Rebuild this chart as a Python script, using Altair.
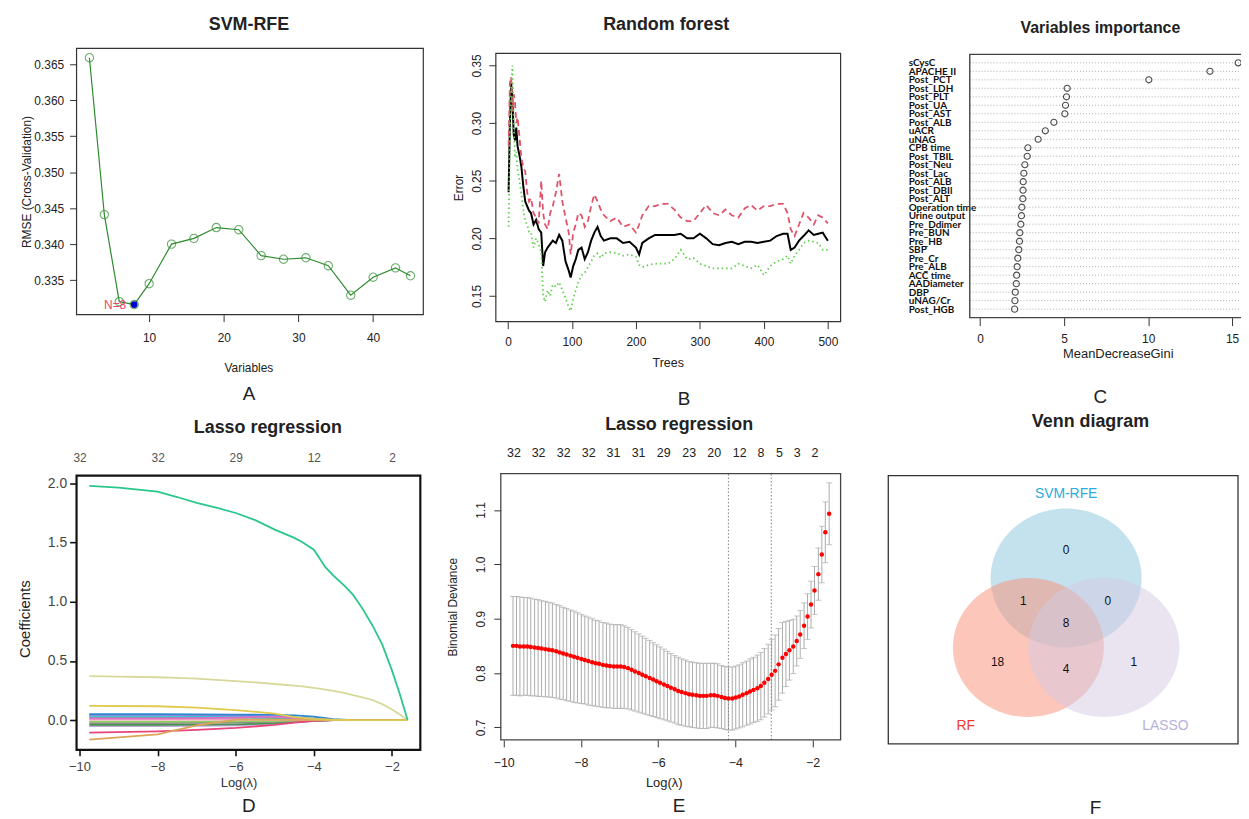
import altair as alt
import pandas as pd

FONT = "Liberation Sans, Arial, Helvetica, sans-serif"
ROWFONT = "Lato, Carlito, Liberation Sans, sans-serif"
INK = "#222222"
W, H, M = 1241, 811, 8

# ---------------- data ----------------
# A: SVM-RFE
A_vars = [2, 4, 6, 8, 10, 13, 16, 19, 22, 25, 28, 31, 34, 37, 40, 43, 45]
A_rmse = [0.3659, 0.3441, 0.3320, 0.3316, 0.3345, 0.3400, 0.3408, 0.3423, 0.3420,
          0.3384, 0.3379, 0.3381, 0.3370, 0.3329, 0.3354, 0.3367, 0.3356]
A_best_n = [8]
A_best_rmse = [0.3316]
A_best_label = ["N=8"]

# B: Random forest error rates
B_trees = [1, 3, 5, 7, 9, 11, 13, 15, 18, 21, 24, 27, 30, 33, 36, 40, 44, 48, 52, 55,
           58, 62, 66, 70, 75, 80, 85, 90, 95, 98, 102, 106, 110, 115, 120, 125, 130, 135, 140, 145,
           150, 160, 170, 180, 190, 200, 205, 210, 220, 230, 240, 250, 260, 270, 280, 290, 300, 310, 320, 330,
           340, 350, 360, 370, 380, 390, 400, 410, 420, 430, 437, 442, 448, 455, 462, 470, 478, 485, 492, 500]
B_oob = [0.240, 0.300, 0.335, 0.320, 0.290, 0.285, 0.296, 0.280, 0.272, 0.262, 0.245, 0.232, 0.228, 0.224, 0.222, 0.212, 0.216, 0.208, 0.205, 0.176,
         0.188, 0.192, 0.195, 0.198, 0.196, 0.203, 0.198, 0.180, 0.172, 0.166, 0.176, 0.182, 0.190, 0.192, 0.182, 0.188, 0.198, 0.205, 0.210, 0.202,
         0.198, 0.200, 0.200, 0.196, 0.197, 0.192, 0.186, 0.196, 0.200, 0.203, 0.203, 0.203, 0.203, 0.204, 0.200, 0.200, 0.204, 0.200, 0.195, 0.194,
         0.196, 0.197, 0.195, 0.197, 0.197, 0.196, 0.197, 0.198, 0.202, 0.204, 0.204, 0.190, 0.192, 0.198, 0.202, 0.207, 0.203, 0.204, 0.205, 0.198]
B_cls1 = [0.280, 0.335, 0.340, 0.310, 0.325, 0.318, 0.300, 0.305, 0.288, 0.270, 0.262, 0.258, 0.240, 0.232, 0.235, 0.222, 0.218, 0.213, 0.250, 0.222,
          0.212, 0.208, 0.222, 0.228, 0.240, 0.256, 0.232, 0.218, 0.205, 0.186, 0.205, 0.212, 0.222, 0.220, 0.210, 0.215, 0.228, 0.238, 0.232, 0.225,
          0.220, 0.215, 0.218, 0.210, 0.212, 0.205, 0.212, 0.220, 0.228, 0.228, 0.230, 0.230, 0.225, 0.218, 0.215, 0.215, 0.222, 0.229, 0.222, 0.220,
          0.225, 0.220, 0.218, 0.226, 0.229, 0.224, 0.228, 0.228, 0.230, 0.230, 0.222, 0.208, 0.202, 0.212, 0.222, 0.218, 0.212, 0.220, 0.218, 0.213]
B_cls0 = [0.210, 0.290, 0.330, 0.350, 0.300, 0.270, 0.275, 0.260, 0.250, 0.238, 0.225, 0.215, 0.212, 0.205, 0.205, 0.192, 0.200, 0.195, 0.188, 0.150,
          0.145, 0.155, 0.150, 0.160, 0.158, 0.162, 0.155, 0.148, 0.140, 0.137, 0.148, 0.155, 0.162, 0.168, 0.170, 0.175, 0.180, 0.185, 0.187, 0.183,
          0.187, 0.188, 0.187, 0.185, 0.186, 0.184, 0.177, 0.175, 0.177, 0.178, 0.178, 0.178, 0.182, 0.190, 0.182, 0.183, 0.178, 0.176, 0.174, 0.174,
          0.174, 0.174, 0.178, 0.176, 0.174, 0.177, 0.168, 0.176, 0.180, 0.182, 0.185, 0.178, 0.185, 0.190, 0.196, 0.198, 0.197, 0.196, 0.190, 0.190]

# C: Variables importance (top to bottom)
C_names = ["sCysC", "APACHE II", "Post_PCT", "Post_LDH", "Post_PLT", "Post_UA", "Post_AST", "Post_ALB",
           "uACR", "uNAG", "CPB time", "Post_TBIL", "Post_Neu", "Post_Lac", "Post_ALB", "Post_DBIl",
           "Post_ALT", "Operation time", "Urine output", "Pre_Ddimer", "Pre_BUN", "Pre_HB", "SBP",
           "Pre_Cr", "Pre_ALB", "ACC time", "AADiameter", "DBP", "uNAG/Cr", "Post_HGB"]
C_gini = [15.36, 13.68, 10.04, 5.18, 5.14, 5.08, 5.04, 4.39, 3.88, 3.45, 2.84, 2.80, 2.66, 2.60, 2.56,
          2.55, 2.54, 2.48, 2.46, 2.42, 2.36, 2.34, 2.30, 2.24, 2.20, 2.17, 2.15, 2.09, 2.07, 2.05]

# D: Lasso coefficient paths
D_loglam = [-9.75, -8.0, -7.0, -6.0, -5.0, -4.5, -4.0, -3.5, -3.0, -2.5, -2.0, -1.6]
D_names = ["lavender", "darkgreen", "gray", "lightgreen", "pink", "teal", "cyan", "purple", "blue",
           "magenta", "pinkred", "orange", "yellow"]
D_colors = ["#B7A8DC", "#4B944F", "#8A8A8A", "#92D05E", "#F29EBE", "#46B7A0", "#3CC2D8", "#A284DA", "#2E86D1",
            "#DD6FC8", "#E6467A", "#DDA55A", "#E1C94B"]
D_coefs = [
    [-0.050, -0.050, -0.048, -0.044, -0.032, -0.020, -0.008, 0.0, 0.0, 0.0, 0.0, 0.0],
    [-0.040, -0.040, -0.039, -0.036, -0.026, -0.016, -0.006, 0.0, 0.0, 0.0, 0.0, 0.0],
    [-0.025, -0.025, -0.024, -0.022, -0.015, -0.009, -0.004, 0.0, 0.0, 0.0, 0.0, 0.0],
    [-0.012, -0.012, -0.012, -0.011, -0.008, -0.005, -0.002, 0.0, 0.0, 0.0, 0.0, 0.0],
    [0.005, 0.005, 0.005, 0.004, 0.003, 0.002, 0.001, 0.0, 0.0, 0.0, 0.0, 0.0],
    [0.025, 0.025, 0.024, 0.022, 0.016, 0.010, 0.004, 0.0, 0.0, 0.0, 0.0, 0.0],
    [0.035, 0.035, 0.034, 0.033, 0.028, 0.022, 0.012, 0.003, 0.0, 0.0, 0.0, 0.0],
    [0.044, 0.044, 0.043, 0.040, 0.030, 0.020, 0.008, 0.002, 0.0, 0.0, 0.0, 0.0],
    [0.050, 0.050, 0.049, 0.047, 0.044, 0.040, 0.030, 0.008, 0.0, 0.0, 0.0, 0.0],
    [0.015, 0.015, 0.016, 0.020, 0.030, 0.018, 0.006, 0.0, 0.0, 0.0, 0.0, 0.0],
    [-0.105, -0.095, -0.082, -0.066, -0.040, -0.022, -0.006, 0.0, 0.0, 0.0, 0.0, 0.0],
    [-0.165, -0.120, -0.045, 0.005, 0.005, 0.003, 0.0, 0.0, 0.0, 0.0, 0.0, 0.0],
    [0.121, 0.117, 0.105, 0.085, 0.055, 0.025, 0.010, 0.003, 0.0, 0.0, 0.0, 0.0],
]
D_loglam_fine = [-9.75, -9.0, -8.0, -7.5, -7.0, -6.5, -6.0, -5.5, -5.0, -4.5, -4.3, -4.0,
                 -3.7, -3.5, -3.2, -3.0, -2.75, -2.5, -2.25, -2.0, -1.8, -1.6]
D_names_fine = ["khaki", "main"]
D_colors_fine = ["#D8D89A", "#29C78A"]
D_coefs_fine = [
    [0.372, 0.368, 0.362, 0.357, 0.350, 0.340, 0.330, 0.318, 0.305, 0.292, 0.285, 0.272,
     0.258, 0.247, 0.228, 0.212, 0.192, 0.170, 0.135, 0.090, 0.048, 0.0],
    [1.980, 1.964, 1.930, 1.885, 1.835, 1.795, 1.750, 1.690, 1.610, 1.540, 1.505, 1.440,
     1.290, 1.220, 1.130, 1.060, 0.940, 0.800, 0.640, 0.420, 0.220, 0.0],
]
D_top_at = [-10, -8, -6, -4, -2]
D_top_lab = ["32", "32", "29", "12", "2"]

# E: cross-validated binomial deviance
E_loglam = [-9.76, -9.67, -9.58, -9.48, -9.39, -9.30, -9.20, -9.11, -9.02, -8.92,
            -8.83, -8.74, -8.64, -8.55, -8.46, -8.37, -8.27, -8.18, -8.09, -7.99,
            -7.90, -7.81, -7.71, -7.62, -7.53, -7.43, -7.34, -7.25, -7.15, -7.06,
            -6.97, -6.88, -6.78, -6.69, -6.60, -6.50, -6.41, -6.32, -6.22, -6.13,
            -6.04, -5.95, -5.85, -5.76, -5.67, -5.57, -5.48, -5.39, -5.29, -5.20,
            -5.11, -5.01, -4.92, -4.83, -4.74, -4.64, -4.55, -4.46, -4.36, -4.27,
            -4.18, -4.08, -3.99, -3.90, -3.81, -3.71, -3.62, -3.53, -3.43, -3.34,
            -3.25, -3.15, -3.06, -2.97, -2.88, -2.78, -2.69, -2.60, -2.50, -2.41,
            -2.32, -2.22, -2.13, -2.04, -1.95, -1.85, -1.76, -1.67, -1.57]
E_cvm = [0.850, 0.850, 0.849, 0.849, 0.849, 0.848, 0.847, 0.846, 0.845, 0.844,
         0.843, 0.842, 0.840, 0.838, 0.836, 0.834, 0.832, 0.830, 0.828, 0.826,
         0.824, 0.822, 0.820, 0.818, 0.817, 0.815, 0.814, 0.813, 0.812, 0.812,
         0.812, 0.811, 0.809, 0.806, 0.803, 0.800, 0.797, 0.794, 0.791, 0.788,
         0.785, 0.782, 0.779, 0.776, 0.773, 0.770, 0.767, 0.765, 0.763, 0.761,
         0.760, 0.759, 0.758, 0.758, 0.758, 0.759, 0.759, 0.758, 0.756, 0.754,
         0.753, 0.753, 0.755, 0.757, 0.760, 0.763, 0.766, 0.769, 0.772, 0.776,
         0.782, 0.789, 0.797, 0.804, 0.816, 0.828, 0.835, 0.842, 0.849, 0.859,
         0.871, 0.887, 0.904, 0.926, 0.952, 0.982, 1.018, 1.059, 1.093]
E_cvsd = [0.091, 0.091, 0.091, 0.090, 0.090, 0.090, 0.089, 0.089, 0.088, 0.088,
          0.087, 0.087, 0.086, 0.086, 0.085, 0.085, 0.084, 0.084, 0.083, 0.082,
          0.081, 0.081, 0.080, 0.079, 0.079, 0.078, 0.078, 0.077, 0.077, 0.077,
          0.077, 0.076, 0.075, 0.074, 0.073, 0.072, 0.071, 0.070, 0.069, 0.068,
          0.067, 0.066, 0.065, 0.064, 0.063, 0.062, 0.062, 0.061, 0.061, 0.060,
          0.060, 0.060, 0.060, 0.060, 0.060, 0.059, 0.059, 0.059, 0.058, 0.058,
          0.058, 0.058, 0.058, 0.058, 0.059, 0.059, 0.060, 0.060, 0.061, 0.062,
          0.063, 0.064, 0.065, 0.066, 0.066, 0.065, 0.060, 0.055, 0.050, 0.046,
          0.044, 0.042, 0.042, 0.043, 0.044, 0.048, 0.052, 0.056, 0.057]
E_lambda_lines = [-4.18, -3.07]
E_top_at = [-9.75, -9.11, -8.46, -7.81, -7.17, -6.52, -5.87, -5.21, -4.56, -3.90, -3.35, -2.87, -2.41, -1.95]
E_top_lab = ["32", "32", "32", "32", "31", "31", "29", "23", "20", "12", "8", "5", "3", "2"]

# F: Venn diagram
F_sets = ["SVM-RFE", "RF", "LASSO"]
F_set_x = [50.85, 40.06, 61.65]
F_set_y = [61.85, 35.9, 35.9]
F_set_fill = ["#89C5DD", "#F98D75", "#D3C9E1"]
F_set_label_x = [50.85, 22.16, 79.26]
F_set_label_y = [92.96, 6.67, 6.67]
F_set_label_col = ["#2AACE0", "#F03A2E", "#B9B2DA"]
F_counts = ["0", "1", "0", "8", "18", "4", "1"]
F_count_x = [50.85, 38.64, 62.78, 50.85, 31.25, 50.85, 70.17]
F_count_y = [72.2, 53.3, 53.3, 45.2, 30.4, 27.8, 30.4]


# ---------------- helpers ----------------
def P(v):
    return v - M


def sc(domain, lo, hi):
    return alt.Scale(domain=domain, range=[P(lo), P(hi)], nice=False, zero=False)


def title_axis(text, axis_y, cx, cy, size=18, weight="bold", orient="top"):
    off = -P(axis_y) if orient == "top" else P(axis_y) - H
    return alt.Axis(orient=orient, offset=off, labels=False, ticks=False, tickSize=0, domain=False,
                    title=text, titleX=P(cx), titleY=cy - axis_y, titleBaseline="middle",
                    titleAlign="center", titleFontSize=size, titleFontWeight=weight,
                    titleColor=INK, titleFont=FONT)


def box(xd, yd, xs, ys, xaxis, stroke="#333333", sw=1.2, sop=1.0):
    df = pd.DataFrame({"x0": [xd[0]], "x1": [xd[1]], "y0": [yd[0]], "y1": [yd[1]]})
    return alt.Chart(df).mark_rect(fill="white", fillOpacity=0, stroke=stroke, strokeWidth=sw,
                                   strokeOpacity=sop).encode(
        x=alt.X("x0:Q", scale=xs, axis=xaxis), x2="x1:Q",
        y=alt.Y("y0:Q", scale=ys, axis=None), y2="y1:Q")


def panel(*layers):
    return alt.layer(*layers).resolve_axis(x="independent", y="independent")


# ---------------- panel A ----------------
xdA, ydA = [0.28, 46.72], [0.3302, 0.3672]
xsA, ysA = sc(xdA, 77, 426), sc(ydA, 314, 46)
GREEN_A = "#2E8B2E"
dfA = pd.DataFrame({"v": A_vars, "r": A_rmse})
dfAb = pd.DataFrame({"v": A_best_n, "r": A_best_rmse, "t": A_best_label})
axA_x = alt.Axis(orient="bottom", values=[10, 20, 30, 40], offset=P(314) - H, domain=False, tickSize=7,
                 labelPadding=16, labelBaseline="middle", labelFontSize=12,
                 title="Variables", titleX=P(250), titleY=367 - 314, titleBaseline="middle",
                 titleFontSize=12, titleFontWeight="normal")
axA_y = alt.Axis(orient="left", values=[0.335, 0.340, 0.345, 0.350, 0.355, 0.360, 0.365], format=".3f",
                 offset=-P(77), domain=False, tickSize=7, labelPadding=6, labelFontSize=12,
                 labelBaseline="middle", labelAlign="right",
                 title="RMSE (Cross-Validation)", titleX=27 - 77, titleY=P(180), titleAngle=270,
                 titleBaseline="middle", titleAlign="center", titleFontSize=12, titleFontWeight="normal")
lineA = alt.Chart(dfA).mark_line(color=GREEN_A, strokeWidth=1.2).encode(
    x=alt.X("v:Q", scale=xsA, axis=axA_x), y=alt.Y("r:Q", scale=ysA, axis=axA_y))
ptsA = alt.Chart(dfA).mark_point(shape="circle", filled=False, color=GREEN_A, size=70, strokeWidth=1.1).encode(
    x=alt.X("v:Q", scale=xsA, axis=None), y=alt.Y("r:Q", scale=ysA, axis=None))
bestA = alt.Chart(dfAb).mark_point(shape="circle", filled=True, color="#0000CD", size=45, opacity=1).encode(
    x=alt.X("v:Q", scale=xsA, axis=title_axis("A", 314, 250, 393, size=19, weight="normal", orient="bottom")),
    y=alt.Y("r:Q", scale=ysA, axis=None))
textA = alt.Chart(dfAb).mark_text(align="right", baseline="middle", dx=-8, color="#EE4466", fontSize=12,
                                  font=FONT).encode(
    x=alt.X("v:Q", scale=xsA, axis=None), y=alt.Y("r:Q", scale=ysA, axis=None), text="t:N")
frameA = box(xdA, ydA, xsA, ysA, title_axis("SVM-RFE", 46, 250, 22))
pA = panel(lineA, ptsA, bestA, textA, frameA)

# ---------------- panel B ----------------
xdB, ydB = [-18.96, 519.96], [0.1278, 0.3605]
xsB, ysB = sc(xdB, 499, 846), sc(ydB, 321, 51)
dfB = pd.DataFrame({"t": B_trees, "oob": B_oob, "c1": B_cls1, "c0": B_cls0})
axB_x = alt.Axis(orient="bottom", values=[0, 100, 200, 300, 400, 500], offset=P(321) - H, domain=False,
                 tickSize=7, labelPadding=13, labelBaseline="middle", labelFontSize=12,
                 title="Trees", titleX=P(672), titleY=362 - 321, titleBaseline="middle",
                 titleFontSize=12.5, titleFontWeight="normal")
axB_y = alt.Axis(orient="left", values=[0.15, 0.20, 0.25, 0.30, 0.35], format=".2f", offset=-P(499),
                 domain=False, tickSize=7, labelPadding=12, labelFontSize=12, labelAngle=270,
                 labelAlign="center", labelBaseline="middle",
                 title="Error", titleX=461 - 499, titleY=P(186), titleAngle=270, titleBaseline="middle",
                 titleAlign="center", titleFontSize=12, titleFontWeight="normal")
oobB = alt.Chart(dfB).mark_line(color="black", strokeWidth=2).encode(
    x=alt.X("t:Q", scale=xsB, axis=axB_x), y=alt.Y("oob:Q", scale=ysB, axis=axB_y))
c1B = alt.Chart(dfB).mark_line(color="#DF536B", strokeWidth=1.8, strokeDash=[6, 4]).encode(
    x=alt.X("t:Q", scale=xsB, axis=None), y=alt.Y("c1:Q", scale=ysB, axis=None))
c0B = alt.Chart(dfB).mark_line(color="#61D04F", strokeWidth=1.8, strokeDash=[1.5, 3]).encode(
    x=alt.X("t:Q", scale=xsB, axis=title_axis("B", 321, 688, 398, size=19, weight="normal", orient="bottom")),
    y=alt.Y("c0:Q", scale=ysB, axis=None))
frameB = box(xdB, ydB, xsB, ysB, title_axis("Random forest", 51, 670, 22))
pB = panel(oobB, c1B, c0B, frameB)

# ---------------- panel C ----------------
xdC, ydC = [-0.62, 16.12], [0, 31]
xsC, ysC = sc(xdC, 976, 1259), sc(ydC, 317, 52)
nC = len(C_names)
dfC = pd.DataFrame({"row": list(range(nC, 0, -1)), "g": C_gini, "name": C_names,
                    "lo": [xdC[0]] * nC, "hi": [xdC[1]] * nC})
names_up = list(reversed(C_names))
exprC = "[" + ",".join("'" + n + "'" for n in names_up) + "][datum.value - 1]"
axC_x = alt.Axis(orient="bottom", values=[0, 5, 10, 15], offset=P(317) - H, domain=False, tickSize=8,
                 labelPadding=13, labelBaseline="middle", labelFontSize=12,
                 title="MeanDecreaseGini", titleX=P(1125), titleY=353 - 317, titleBaseline="middle",
                 titleFontSize=13, titleFontWeight="normal")
axC_y = alt.Axis(orient="left", values=list(range(1, nC + 1)), labelExpr=exprC, offset=-P(976),
                 ticks=False, tickSize=0, domain=False, labelAlign="left", labelPadding=62,
                 labelFont=ROWFONT, labelFontWeight="bold", labelFontSize=10, labelBaseline="middle",
                 labelColor="#111111", title=None)
rulesC = alt.Chart(dfC).mark_rule(color="#9A9A9A", strokeWidth=0.8, strokeDash=[1, 2]).encode(
    x=alt.X("lo:Q", scale=xsC, axis=None), x2="hi:Q", y=alt.Y("row:Q", scale=ysC, axis=None))
ptsC = alt.Chart(dfC).mark_point(shape="circle", filled=False, color="black", size=38, strokeWidth=1.1).encode(
    x=alt.X("g:Q", scale=xsC, axis=axC_x), y=alt.Y("row:Q", scale=ysC, axis=axC_y))
ghostC = box(xdC, ydC, xsC, ysC, title_axis("C", 317, 1107, 396, size=19, weight="normal", orient="bottom"), sop=0)
frameC = box(xdC, ydC, xsC, ysC, title_axis("Variables importance", 52, 1107, 25, size=16), stroke="#444444", sw=1.4)
pC = panel(rulesC, ptsC, ghostC, frameC)

# ---------------- panel D ----------------
xdD, ydD = [-10.076, -1.274], [-0.251, 2.066]
xsD, ysD = sc(xdD, 77, 423), sc(ydD, 752, 476)
rowsD = []
for nm, vals in zip(D_names, D_coefs):
    for xv, yv in zip(D_loglam, vals):
        rowsD.append({"s": nm, "x": xv, "y": yv})
for nm, vals in zip(D_names_fine, D_coefs_fine):
    for xv, yv in zip(D_loglam_fine, vals):
        rowsD.append({"s": nm, "x": xv, "y": yv})
dfD = pd.DataFrame(rowsD)
axD_x = alt.Axis(orient="bottom", values=[-10, -8, -6, -4, -2], offset=P(752) - H, domain=False, tickSize=6,
                 tickWidth=1.6, tickColor="#111111", labelPadding=11, labelBaseline="middle",
                 labelFontSize=13, labelColor="#444444",
                 title="Log(λ)", titleX=P(240), titleY=785 - 752, titleBaseline="middle",
                 titleFontSize=13, titleFontWeight="normal", titleColor="#333333")
axD_y = alt.Axis(orient="left", values=[0, 0.5, 1.0, 1.5, 2.0], format=".1f", offset=-P(77), domain=False,
                 tickSize=7, tickWidth=1.6, tickColor="#111111", labelPadding=3, labelFontSize=14,
                 labelColor="#444444", labelBaseline="middle", labelAlign="right",
                 title="Coefficients", titleX=25 - 77, titleY=P(620), titleAngle=270,
                 titleBaseline="middle", titleAlign="center", titleFontSize=15, titleFontWeight="normal",
                 titleColor="#222222")
exprD = "[" + ",".join("'" + s + "'" for s in D_top_lab) + "][indexof([" + ",".join(str(v) for v in D_top_at) + "], datum.value)]"
axD_top = alt.Axis(orient="top", values=D_top_at, labelExpr=exprD, offset=-P(476), ticks=False, tickSize=0,
                   domain=False, labelPadding=18, labelBaseline="middle", labelFontSize=12,
                   labelColor="#555555", title="Lasso regression", titleX=P(269), titleY=428 - 476,
                   titleBaseline="middle", titleAlign="center", titleFontSize=18, titleFontWeight="bold",
                   titleColor=INK)
linesD = alt.Chart(dfD).mark_line(strokeWidth=1.8).encode(
    x=alt.X("x:Q", scale=xsD, axis=axD_x), y=alt.Y("y:Q", scale=ysD, axis=axD_y),
    color=alt.Color("s:N", scale=alt.Scale(domain=D_names + D_names_fine, range=D_colors + D_colors_fine),
                    legend=None),
    order=alt.Order("x:Q"))
ghostD = box(xdD, ydD, xsD, ysD, title_axis("D", 752, 250, 808, size=19, weight="normal", orient="bottom"), sop=0)
frameD = box(xdD, ydD, xsD, ysD, axD_top, stroke="#111111", sw=2.2)
pD = panel(linesD, ghostD, frameD)

# ---------------- panel E ----------------
xdE, ydE = [-10.076, -1.274], [0.677, 1.167]
xsE, ysE = sc(xdE, 504, 846), sc(ydE, 742, 474)
dfE = pd.DataFrame({"x": E_loglam, "m": E_cvm, "sd": E_cvsd})
dfE["lo"] = dfE["m"] - dfE["sd"]
dfE["hi"] = dfE["m"] + dfE["sd"]
dfEv = pd.DataFrame({"x": E_lambda_lines, "lo": [ydE[0]] * 2, "hi": [ydE[1]] * 2})
axE_x = alt.Axis(orient="bottom", values=[-10, -8, -6, -4, -2], offset=P(742) - H, domain=False, tickSize=7,
                 labelPadding=16, labelBaseline="middle", labelFontSize=12.5,
                 title="Log(λ)", titleX=P(668), titleY=785 - 742, titleBaseline="middle",
                 titleFontSize=13, titleFontWeight="normal")
axE_y = alt.Axis(orient="left", values=[0.7, 0.8, 0.9, 1.0, 1.1], format=".1f", offset=-P(504), domain=False,
                 tickSize=7, labelPadding=13, labelFontSize=12, labelAngle=270, labelAlign="center",
                 labelBaseline="middle",
                 title="Binomial Deviance", titleX=455 - 504, titleY=P(608), titleAngle=270,
                 titleBaseline="middle", titleAlign="center", titleFontSize=12, titleFontWeight="normal")
exprE = "[" + ",".join("'" + s + "'" for s in E_top_lab) + "][indexof([" + ",".join(str(v) for v in E_top_at) + "], datum.value)]"
axE_top = alt.Axis(orient="top", values=E_top_at, labelExpr=exprE, offset=-P(474), ticks=False, tickSize=0,
                   domain=False, labelPadding=21, labelBaseline="middle", labelFontSize=12.5,
                   labelColor=INK, title="Lasso regression", titleX=P(683), titleY=425 - 474,
                   titleBaseline="middle", titleAlign="center", titleFontSize=18, titleFontWeight="bold",
                   titleColor=INK)
barsE = alt.Chart(dfE).mark_rule(color="#ABABAB", strokeWidth=1).encode(
    x=alt.X("x:Q", scale=xsE, axis=axE_x), y=alt.Y("lo:Q", scale=ysE, axis=axE_y), y2="hi:Q")
capHiE = alt.Chart(dfE).mark_tick(orient="horizontal", size=6, thickness=1, color="#ABABAB").encode(
    x=alt.X("x:Q", scale=xsE, axis=None), y=alt.Y("hi:Q", scale=ysE, axis=None))
capLoE = alt.Chart(dfE).mark_tick(orient="horizontal", size=6, thickness=1, color="#ABABAB").encode(
    x=alt.X("x:Q", scale=xsE, axis=None), y=alt.Y("lo:Q", scale=ysE, axis=None))
vlinesE = alt.Chart(dfEv).mark_rule(color="#808080", strokeWidth=1, strokeDash=[1.5, 2]).encode(
    x=alt.X("x:Q", scale=xsE, axis=None), y=alt.Y("lo:Q", scale=ysE, axis=None), y2="hi:Q")
dotsE = alt.Chart(dfE).mark_circle(color="#FF0000", size=20, opacity=1).encode(
    x=alt.X("x:Q", scale=xsE, axis=title_axis("E", 742, 683, 808, size=19, weight="normal", orient="bottom")),
    y=alt.Y("m:Q", scale=ysE, axis=None))
frameE = box(xdE, ydE, xsE, ysE, axE_top, stroke="#444444", sw=1.3)
pE = panel(barsE, capHiE, capLoE, vlinesE, dotsE, frameE)

# ---------------- panel F ----------------
xdF, ydF = [0, 100], [0, 100]
xsF, ysF = sc(xdF, 894, 1246), sc(ydF, 746, 476)
ELLIPSE = "M -1 0 A 1 0.92 0 1 1 1 0 A 1 0.92 0 1 1 -1 0 Z"
dfF = pd.DataFrame({"name": F_sets, "x": F_set_x, "y": F_set_y, "fill": F_set_fill,
                    "lx": F_set_label_x, "ly": F_set_label_y, "lc": F_set_label_col})
dfFc = pd.DataFrame({"n": F_counts, "x": F_count_x, "y": F_count_y})
setsF = alt.Chart(dfF).mark_point(shape=ELLIPSE, filled=True, size=23104, opacity=0.5, strokeWidth=0).encode(
    x=alt.X("x:Q", scale=xsF, axis=title_axis("F", 746, 1102, 810, size=19, weight="normal", orient="bottom")),
    y=alt.Y("y:Q", scale=ysF, axis=None),
    color=alt.Color("fill:N", scale=None))
labF = alt.Chart(dfF).mark_text(fontSize=14, font=FONT, baseline="middle").encode(
    x=alt.X("lx:Q", scale=xsF, axis=None), y=alt.Y("ly:Q", scale=ysF, axis=None),
    text="name:N", color=alt.Color("lc:N", scale=None))
cntF = alt.Chart(dfFc).mark_text(fontSize=12, font=FONT, baseline="middle", color="#111111").encode(
    x=alt.X("x:Q", scale=xsF, axis=None), y=alt.Y("y:Q", scale=ysF, axis=None), text="n:N")
frameF = box(xdF, ydF, xsF, ysF, title_axis("Venn diagram", 476, 1097, 422), stroke="#333333", sw=1.3)
pF = panel(setsF, labF, cntF, frameF)

chart = alt.layer(pA, pB, pC, pD, pE, pF).resolve_scale(
    x="independent", y="independent", color="independent"
).properties(
    width=W, height=H, padding=0, autosize=alt.AutoSizeParams(type="none")
).configure_view(stroke=None).configure_axis(
    grid=False, labelFont=FONT, titleFont=FONT, labelColor=INK, titleColor=INK, tickColor="#333333",
    labelFlush=False, labelOverlap=False
)

chart.save("out.html", embed_options={"renderer": "svg", "actions": False})
